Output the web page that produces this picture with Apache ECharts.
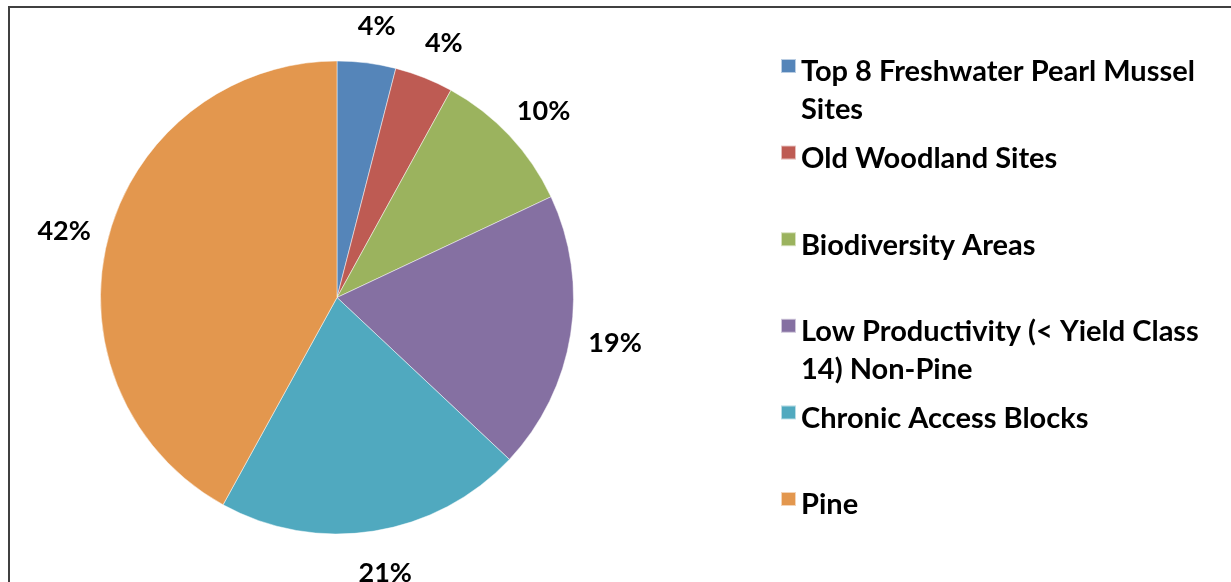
<!DOCTYPE html>
<html>
<head>
<meta charset="utf-8">
<script src="https://cdn.jsdelivr.net/npm/echarts@6/dist/echarts.min.js"></script>
<style>
  html, body { margin: 0; padding: 0; background: #fff; }
  #chart { width: 1231px; height: 582px; }
</style>
</head>
<body>
<div id="chart"></div>
<script>
// Share of area by constraint category (percent)
const categories = [
  'Top 8 Freshwater Pearl Mussel Sites',
  'Old Woodland Sites',
  'Biodiversity Areas',
  'Low Productivity (< Yield Class 14) Non-Pine',
  'Chronic Access Blocks',
  'Pine'
];
const legendLabels = [
  'Top 8 Freshwater Pearl Mussel\nSites',
  'Old Woodland Sites',
  'Biodiversity Areas',
  'Low Productivity (< Yield Class\n14) Non-Pine',
  'Chronic Access Blocks',
  'Pine'
];
const values = [4, 4, 10, 19, 21, 42];
const colors = ['#5585B9', '#BE5B53', '#9BB35E', '#8570A2', '#50A9BF', '#E3974E'];

const FONT = 'Lato';
const LINE_H = 38;
const LEGEND_TOP = 59;
const LEGEND_STEP = 86.6;
const TEXT_DROP = 12;

// One legend block per entry so that entries stay evenly spaced
// even when a name wraps onto two lines. A spacer line on top keeps
// the first text line level with the swatch.
const legends = categories.map((name, i) => {
  const lines = legendLabels[i].split('\n');
  const spacerH = TEXT_DROP + (lines.length - 1) * LINE_H;
  const totalH = spacerH + lines.length * LINE_H;
  const boxTop = 7 - totalH / 2;
  const rich = '{s| }\n' + lines.map(l => '{t|' + l + '}').join('\n');
  return {
    data: [name],
    orient: 'vertical',
    left: 780,
    top: LEGEND_TOP + i * LEGEND_STEP + boxTop,
    padding: 0,
    icon: 'rect',
    itemWidth: 15,
    itemHeight: 14,
    selectedMode: false,
    formatter: () => rich,
    textStyle: {
      color: '#000',
      rich: {
        s: { fontSize: 4, lineHeight: spacerH, height: spacerH },
        t: { fontFamily: FONT, fontWeight: 'bold', fontSize: 29, lineHeight: LINE_H, color: '#000' }
      }
    }
  };
});

const chart = echarts.init(document.getElementById('chart'), null, { renderer: 'canvas' });
chart.setOption({
  animation: false,
  backgroundColor: '#fff',
  color: colors,
  legend: legends,
  graphic: [{
    type: 'rect',
    shape: { x: 9, y: 7, width: 1400, height: 800 },
    style: { fill: 'none', stroke: '#404040', lineWidth: 2 },
    silent: true
  }],
  series: [{
    type: 'pie',
    center: [337, 297.5],
    radius: 236.5,
    startAngle: 90,
    clockwise: true,
    avoidLabelOverlap: false,
    itemStyle: { borderColor: 'rgba(255,255,255,0.6)', borderWidth: 0.8 },
    label: {
      show: true,
      position: 'outside',
      formatter: p => p.value + '%',
      fontFamily: FONT,
      fontWeight: 'bold',
      fontSize: 27,
      color: '#000'
    },
    labelLine: { show: false, length: 40, length2: 0 },
    labelLayout: () => ({ align: 'center', dy: 3 }),
    emphasis: { disabled: true },
    data: categories.map((name, i) => ({ name: name, value: values[i] }))
  }]
});
</script>
</body>
</html>
